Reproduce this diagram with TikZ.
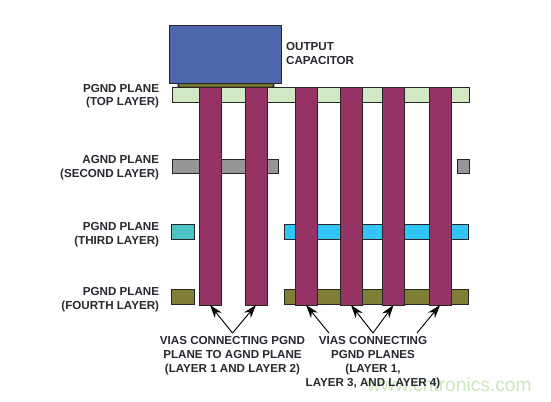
\documentclass[tikz,border=0pt]{standalone}
\usepackage{fontspec}
\setmainfont{Liberation Sans}
\usetikzlibrary{positioning,arrows.meta}
\definecolor{capblue}{RGB}{76,103,172}
\definecolor{topgreen}{RGB}{210,231,196}
\definecolor{agndgrey}{RGB}{150,150,150}
\definecolor{thirdteal}{RGB}{76,195,197}
\definecolor{thirdblue}{RGB}{50,197,245}
\definecolor{fourtholive}{RGB}{126,126,52}
\definecolor{viared}{RGB}{151,50,100}
\definecolor{labelgrey}{RGB}{40,40,48}
\definecolor{wwwgreen}{RGB}{203,232,184}
\newcommand{\px}{0.75pt}

\begin{document}
\begin{tikzpicture}[x=\px, y=-\px,
  block/.style 2 args={draw=black!85, line width=0.7pt, rectangle, inner sep=0pt, outer sep=0pt, minimum width=#1*\px, minimum height=#2*\px},
  via/.style={block={22}{218}, fill=viared},
  label/.style={inner sep=0pt, align=center, text=labelgrey, font=\fontsize{8.7}{10.4}\selectfont\bfseries},
  leader/.style={draw=black, line width=0.7pt, -{Stealth[length=10pt, width=6.5pt]}}]
\useasboundingbox (0,0) rectangle (551,401);
% layers
\node (top) [block={297}{15}, fill=topgreen] at (320.5,94.5) {};
\node (agnd) [block={106}{14}, fill=agndgrey] at (225,166) {};
\node (agndr) [block={12}{14}, fill=agndgrey] at (463,166) {};
\node (third) [block={22.5}{14.5}, fill=thirdteal] at (183.2,232) {};
\node (thirdr) [block={184}{14.5}, fill=thirdblue] at (376.3,232) {};
\node (fourth) [block={22.5}{15}, fill=fourtholive] at (183.2,297) {};
\node (fourthr) [block={184}{15}, fill=fourtholive] at (376.3,297) {};
% vias
\node (via1) [via] at (210,196) {};
\node (via2) [via] at (256,196) {};
\node (via3) [via] at (306,196) {};
\node (via4) [via] at (351,196) {};
\node (via5) [via] at (393.5,196) {};
\node (via6) [via] at (440,196) {};
% capacitor
\node (solder) [block={96}{3.5}, fill=fourtholive, rounded corners=1.5pt] at (226,85.3) {};
\node (cap) [block={112}{58}, fill=capblue] at (225,54.7) {};
% labels
\node (www) [inner sep=0pt, text=wwwgreen, font=\fontsize{14.4}{16}\selectfont] at (449.5,385) {www.cntronics.com};
\node (captext) [label, align=left, right=3.7pt of cap, yshift=1pt] {OUTPUT\\CAPACITOR};
\node (toptext) [label, align=right, left=9.5pt of top, yshift=-1.2pt] {PGND PLANE\\(TOP LAYER)};
\node (agndtext) [label, align=right, left=9.5pt of agnd, yshift=-1.2pt] {AGND PLANE\\(SECOND LAYER)};
\node (thirdtext) [label, align=right, left=9.5pt of third, yshift=-1.9pt] {PGND PLANE\\(THIRD LAYER)};
\node (fourthtext) [label, align=right, left=9.5pt of fourth, yshift=-1.9pt] {PGND PLANE\\(FOURTH LAYER)};
% arrows
\coordinate (forka) at (232.5,333);
\coordinate (forkb) at (373,333);
\coordinate (tailc) at (329,333);
\coordinate (taild) at (417,333);
\draw [leader] (forka) -- (via1.south);
\draw [leader] (forka) -- (via2.south);
\draw [leader] (tailc) -- (via3.south);
\draw [leader] (forkb) -- (via4.south);
\draw [leader] (forkb) -- (via5.south);
\draw [leader] (taild) -- (via6.south);
\node (viatexta) [label, below=2.5pt of forka] {VIAS CONNECTING PGND\\PLANE TO AGND PLANE\\(LAYER 1 AND LAYER 2)};
\node (viatextb) [label, below=2.5pt of forkb] {VIAS CONNECTING\\PGND PLANES\\(LAYER 1,\\LAYER 3, AND LAYER 4)};
\end{tikzpicture}
\end{document}
